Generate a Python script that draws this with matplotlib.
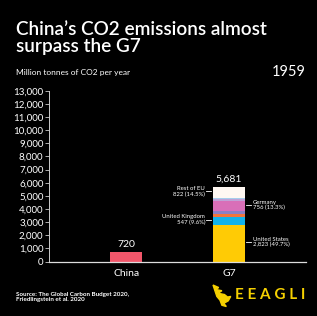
import matplotlib
matplotlib.use('Agg')
import matplotlib.pyplot as plt
from matplotlib.patches import Polygon

plt.rcParams['font.family'] = ['Lato', 'DejaVu Sans']

# data (1959, million tonnes of CO2)
categories = ['China', 'G7']
china_value = 720
g7_parts = ['United States', 'United Kingdom', 'Japan', 'France', 'Germany', 'Italy', 'Canada', 'Rest of EU']
g7_values = [2823, 547, 230, 250, 756, 120, 133, 822]
g7_colors = ['#FFCB05', '#12B2EA', '#F2743A', '#8A7FC6', '#D96FB8', '#BFA2D6', '#A6CDEB', '#FFF8F2']
g7_total = 5681
year = '1959'
yticks = list(range(0, 13001, 1000))

fig = plt.figure(figsize=(3.17, 3.16), dpi=100, facecolor='black')
ax = fig.add_axes([0.1546, 0.172, 0.8104, 0.541], facecolor='black')

# China bar
ax.bar(0, china_value, width=0.31, color='#F2566A')
ax.text(0, china_value + 250, f'{china_value:,}', color='white', ha='center', va='bottom', fontsize=7.5)

# G7 stacked bar
bottom = 0
for name, v, c in zip(g7_parts, g7_values, g7_colors):
    ax.bar(1, v, width=0.31, bottom=bottom, color=c)
    bottom += v
ax.text(1, g7_total + 250, f'{g7_total:,}', color='white', ha='center', va='bottom', fontsize=7.5)

# annotations
def pct(v):
    return f'{v:,} ({v / g7_total * 100:.1f}%)'

left_notes = [('Rest of EU', 822, 5350), ('United Kingdom', 547, 3200)]
right_notes = [('Germany', 756, 4300), ('United States', 2823, 1500)]
for name, v, yv in left_notes:
    ax.plot([0.78, 0.83], [yv, yv], color='white', lw=0.6)
    ax.text(0.77, yv, f'{name}\n{pct(v)}', color='white', ha='right', va='center', fontsize=4.3, linespacing=1.1)
for name, v, yv in right_notes:
    ax.plot([1.17, 1.22], [yv, yv], color='white', lw=0.6)
    ax.text(1.235, yv, f'{name}\n{pct(v)}', color='white', ha='left', va='center', fontsize=4.3, linespacing=1.1)

ax.set_xlim(-0.75, 1.75)
ax.set_ylim(0, 13000)
ax.set_yticks(yticks)
ax.set_yticklabels([f'{t:,}' for t in yticks], color='white', fontsize=7)
ax.set_xticks([0, 1])
ax.set_xticklabels(categories, color='white', fontsize=7.5)
ax.tick_params(axis='x', length=0, pad=5)
ax.tick_params(axis='y', length=3, width=0.6, color='#cccccc', pad=1)
for s in ['top', 'right']:
    ax.spines[s].set_visible(False)
ax.spines['left'].set_color('#cccccc')
ax.spines['left'].set_linewidth(0.7)
ax.spines['bottom'].set_color('#dddddd')
ax.spines['bottom'].set_linewidth(0.9)

# titles
fig.text(0.052, 0.935, "China\u2019s CO2 emissions almost\nsurpass the G7", color='white', fontsize=13.7,
         fontweight='semibold', ha='left', va='top', linespacing=1.05)
fig.text(0.052, 0.772, 'Million tonnes of CO2 per year', color='white', fontsize=6, ha='left', va='center')
fig.text(0.965, 0.772, year, color='white', fontsize=10.5, ha='right', va='center')

# footer
fig.text(0.052, 0.06, 'Source: The Global Carbon Budget 2020,\nFriedlingstein et al. 2020', color='white',
         fontsize=4.5, ha='left', va='center', fontweight='bold', linespacing=1.2)
fig.text(0.742, 0.068, 'E E A G L I', color='#F5D000', fontsize=11, fontweight='bold', ha='left', va='center')
# rough eagle wing logo
eagle = [(0.672, 0.098), (0.690, 0.090), (0.680, 0.084), (0.700, 0.080), (0.688, 0.072),
         (0.708, 0.068), (0.718, 0.060), (0.728, 0.062), (0.720, 0.048), (0.706, 0.040),
         (0.714, 0.030), (0.700, 0.034), (0.694, 0.050), (0.684, 0.062)]
fig.patches.append(Polygon(eagle, closed=True, transform=fig.transFigure, color='#F5D000'))

fig.savefig('out.png', dpi=100, facecolor='black')
